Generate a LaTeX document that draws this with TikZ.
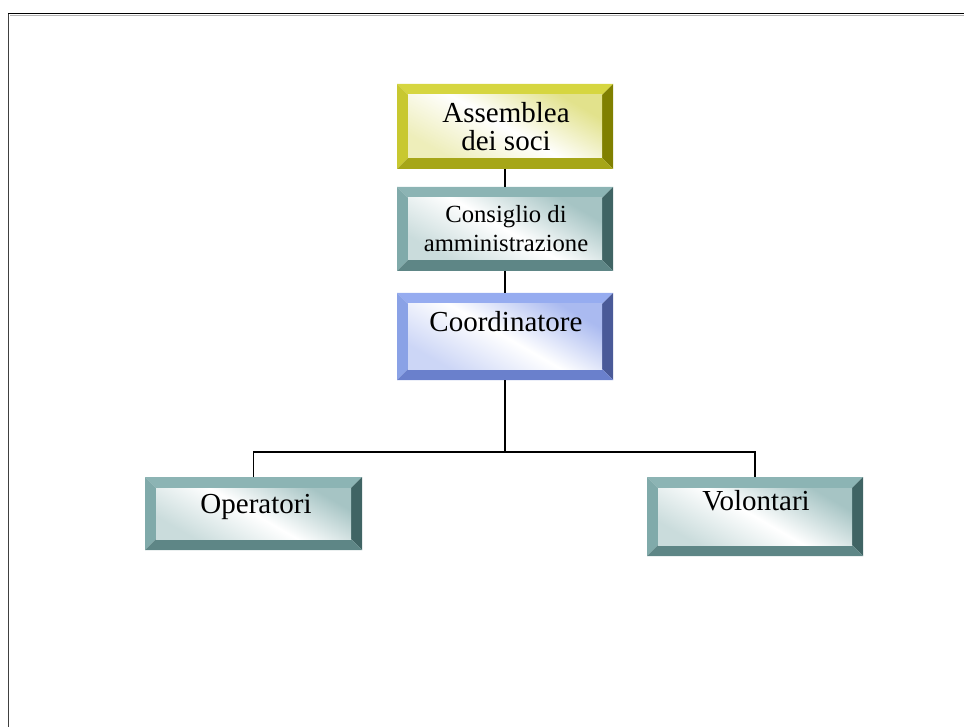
\documentclass[tikz,border=0pt]{standalone}
\usepackage{fontspec}
\setmainfont{Liberation Serif}
\usetikzlibrary{calc,fit}
\definecolor{ylT}{HTML}{D6D640}
\definecolor{ylL}{HTML}{C8C830}
\definecolor{ylR}{HTML}{808000}
\definecolor{ylB}{HTML}{A6A618}
\definecolor{ylF}{HTML}{E2E28C}
\definecolor{tlT}{HTML}{8CB4B4}
\definecolor{tlL}{HTML}{80AAAA}
\definecolor{tlR}{HTML}{406464}
\definecolor{tlB}{HTML}{5E8686}
\definecolor{tlF}{HTML}{A6C4C4}
\definecolor{blT}{HTML}{96ACF0}
\definecolor{blL}{HTML}{8AA2E6}
\definecolor{blR}{HTML}{4A5A98}
\definecolor{blB}{HTML}{6A80CC}
\definecolor{blF}{HTML}{AABAF0}
\newcommand\bevbox[6]{%
  \node[fit={(#2,#3)(#4,#5)},inner sep=0pt,outer sep=0pt] (#1) {};
  \fill[#6T] (#1.north west) -- (#1.north east) -- ($(#1.north east)+(-11,11)$) -- ($(#1.north west)+(11,11)$) -- cycle;
  \fill[#6L] (#1.north west) -- ($(#1.north west)+(11,11)$) -- ($(#1.south west)+(11,-11)$) -- (#1.south west) -- cycle;
  \fill[#6R] (#1.north east) -- (#1.south east) -- ($(#1.south east)+(-11,-11)$) -- ($(#1.north east)+(-11,11)$) -- cycle;
  \fill[#6B] (#1.south west) -- (#1.south east) -- ($(#1.south east)+(-11,-11)$) -- ($(#1.south west)+(11,-11)$) -- cycle;
  \shade[left color=#6F, right color=#6F!60!white, middle color=white, shading angle=-30] ($(#1.north west)+(11,11)$) rectangle ($(#1.south east)+(-11,-11)$);
}
\tikzset{
  conn/.style={draw=black,line width=1.1pt},
  lbl/.style={anchor=base,inner sep=0pt,font=\fontsize{21.75}{24}\selectfont},
  lblsm/.style={anchor=base,inner sep=0pt,font=\fontsize{18.5}{22}\selectfont}
}
\begin{document}
\begin{tikzpicture}[x=0.75pt,y=-0.75pt]
\useasboundingbox (0,0) rectangle (964,727);
% frame
\draw[line width=1.1pt,black!75] (8.5,14) -- (8.5,727);
\draw[line width=1.1pt,black] (8,13.5) -- (964,13.5);
\draw[line width=0.8pt,black!30] (10,15.3) -- (964,15.3);
% boxes
\bevbox{ass}{397}{84}{613}{169}{yl}
\bevbox{con}{397}{187}{613}{271}{tl}
\bevbox{coo}{397}{293}{613}{380}{bl}
\bevbox{ope}{145}{477}{362}{550}{tl}
\bevbox{vol}{647}{477}{863}{556}{tl}
% labels
\node[lbl] (assA) at (506,123) {Assemblea};
\node[lbl] (assB) at (506,151) {dei soci};
\node[lblsm] (conA) at (506,223) {Consiglio di};
\node[lblsm] (conB) at (506,252) {amministrazione};
\node[lbl] (cooA) at (506,332) {Coordinatore};
\node[lbl] (opeA) at (256,513) {Operatori};
\node[lbl] (volA) at (756,510) {Volontari};
% connectors
\coordinate (bus) at (505,452);
\draw[conn] (ass.south) -- (con.north);
\draw[conn] (con.south) -- (coo.north);
\draw[conn] (coo.south) -- (coo.south |- bus);
\draw[conn] (ope.north) |- (bus) -| (vol.north);
\end{tikzpicture}
\end{document}
